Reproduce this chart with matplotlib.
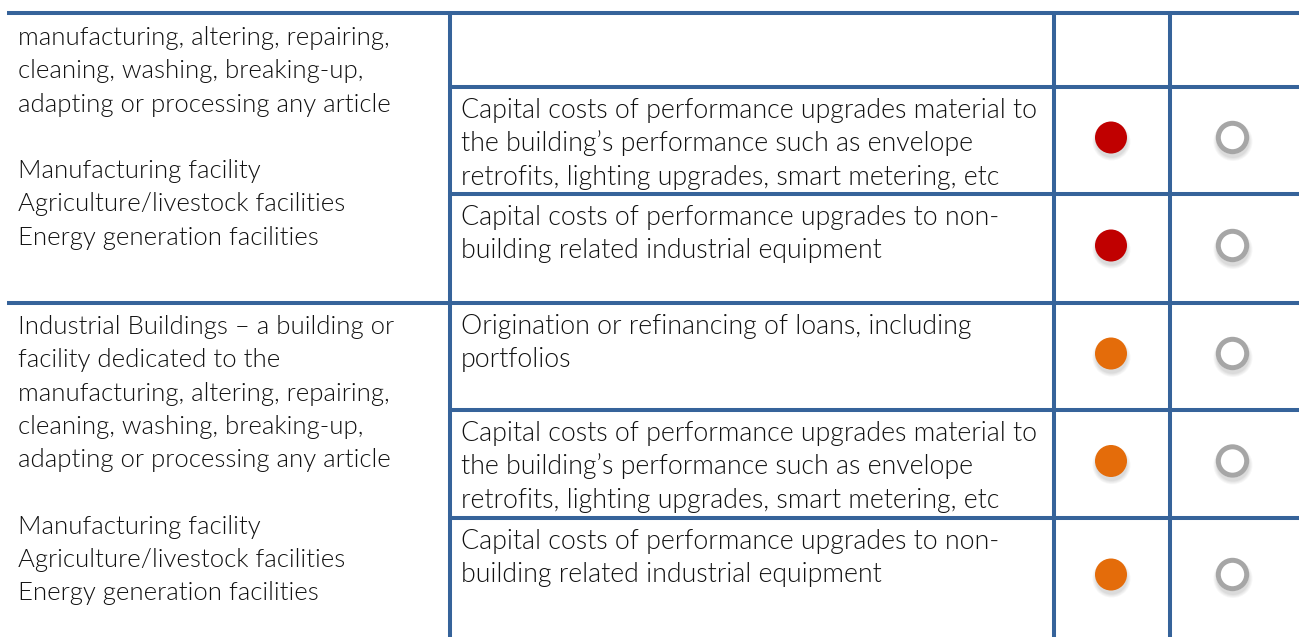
import matplotlib.pyplot as plt
from matplotlib.patches import Circle

plt.rcParams['font.family'] = ['Lato', 'DejaVu Sans']

# left column: two blocks of text (first is cut off at the top)
left_blocks = [
    ["manufacturing, altering, repairing,",
     "cleaning, washing, breaking-up,",
     "adapting or processing any article",
     "",
     "Manufacturing facility",
     "Agriculture/livestock facilities",
     "Energy generation facilities"],
    ["Industrial Buildings \u2013 a building or",
     "facility dedicated to the",
     "manufacturing, altering, repairing,",
     "cleaning, washing, breaking-up,",
     "adapting or processing any article",
     "",
     "Manufacturing facility",
     "Agriculture/livestock facilities",
     "Energy generation facilities"],
]

# middle column rows and their markers (col 3 filled colour, col 4 ring)
row_texts = [
    [],
    ["Capital costs of performance upgrades material to",
     "the building\u2019s performance such as envelope",
     "retrofits, lighting upgrades, smart metering, etc"],
    ["Capital costs of performance upgrades to non-",
     "building related industrial equipment"],
    ["Origination or refinancing of loans, including",
     "portfolios"],
    ["Capital costs of performance upgrades material to",
     "the building\u2019s performance such as envelope",
     "retrofits, lighting upgrades, smart metering, etc"],
    ["Capital costs of performance upgrades to non-",
     "building related industrial equipment"],
]
filled_colors = [None, '#C00000', '#C00000', '#E46C0A', '#E46C0A', '#E46C0A']
ring_shown = [False, True, True, True, True, True]

# layout (pixels)
W, H = 1299, 637
row_edges = [13, 87, 194, 303, 410, 518, 637]
block_edges = [13, 303, 637]
col_x = [7, 450, 1054, 1170, W]
line_h = 33.3
line_color = '#36639A'
text_color = '#111111'

fig = plt.figure(figsize=(W / 100, H / 100), dpi=100)
ax = fig.add_axes([0, 0, 1, 1])
ax.set_xlim(0, W)
ax.set_ylim(H, 0)
ax.axis('off')

lw = 2.9
# horizontal lines
for y in row_edges[:-1]:
    x0 = col_x[0] if y in block_edges else col_x[1]
    ax.plot([x0, W], [y, y], color=line_color, lw=lw, solid_capstyle='butt')
# vertical lines
for x in col_x[1:4]:
    ax.plot([x, x], [row_edges[0], H], color=line_color, lw=lw, solid_capstyle='butt')

# left column text
first_base = [45, 334]
for bi, lines in enumerate(left_blocks):
    for i, s in enumerate(lines):
        ax.text(18, first_base[bi] + i * line_h, s, fontsize=18.5, color=text_color,
                va='baseline', ha='left', fontweight=300)

# middle column text
for r, lines in enumerate(row_texts):
    top = row_edges[r]
    for i, s in enumerate(lines):
        ax.text(461, top + 31 + i * line_h, s, fontsize=19.3, color=text_color,
                va='baseline', ha='left', fontweight=300)


def shadow(x, y, r):
    for k, a in enumerate([0.05, 0.05, 0.06, 0.07]):
        ax.add_patch(Circle((x + 0.5, y + 4), r + 3 - k, color='#606060', alpha=a, lw=0, zorder=2))


c3 = (col_x[2] + col_x[3]) / 2 - 1
c4 = (col_x[3] + col_x[4]) / 2 - 2
for r in range(len(row_texts)):
    yc = (row_edges[r] + row_edges[r + 1]) / 2 - 3
    if filled_colors[r]:
        shadow(c3, yc, 16)
        ax.add_patch(Circle((c3, yc), 16, color=filled_colors[r], lw=0, zorder=3))
    if ring_shown[r]:
        shadow(c4, yc, 16.5)
        ax.add_patch(Circle((c4, yc), 16.5, facecolor='white', lw=0, zorder=3))
        ax.add_patch(Circle((c4, yc), 14.2, facecolor='white', edgecolor='#A6A6A6',
                            lw=3.6, zorder=4))

fig.savefig('out.png', dpi=100)
